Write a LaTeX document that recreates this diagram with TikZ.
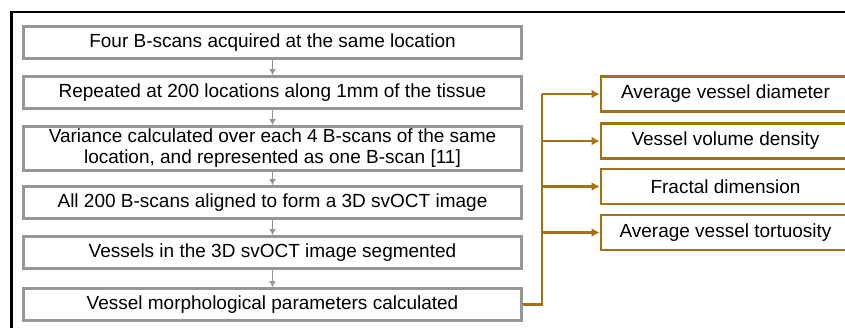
\documentclass[tikz,border=0pt]{standalone}
\usepackage{fontspec}
\setmainfont{Liberation Sans}
\usetikzlibrary{arrows.meta}

\definecolor{stepgray}{RGB}{150,150,150}
\definecolor{paramgold}{RGB}{163,114,24}

\tikzset{
  stepbox/.style={draw=stepgray, line width=2.8pt, minimum width=498, minimum height=32,
    inner sep=0pt, align=center, font=\fontsize{19}{21}\selectfont},
  parambox/.style={draw=paramgold, line width=2.8pt, minimum width=249, minimum height=35,
    inner sep=0pt, align=center, font=\fontsize{19}{21}\selectfont},
  steparrow/.style={draw=stepgray, line width=1.8pt, -{Latex[length=6pt,width=7pt]}},
  paramarrow/.style={draw=paramgold, line width=2.4pt, -{Latex[length=8pt,width=9pt]}}
}

\begin{document}
\begin{tikzpicture}[x=1pt,y=-1pt]
    \useasboundingbox (0,0) rectangle (845,327);
    \clip (0,0) rectangle (845,327);
    % outer frame
    \draw[line width=2.8pt] (11.5,12) rectangle (870,345);
    % processing steps
    \node[stepbox] (scan) at (272.5,42.5) {Four B-scans acquired at the same location};
    \node[stepbox] (repeat) at (272.5,92.5) {Repeated at 200 locations along 1mm of the tissue};
    \node[stepbox, minimum height=44] (variance) at (272.5,148.5)
        {Variance calculated over each 4 B-scans of the same\\location, and represented as one B-scan [11]};
    \node[stepbox] (align) at (272.5,202.5) {All 200 B-scans aligned to form a 3D svOCT image};
    \node[stepbox] (segment) at (272.5,252.5) {Vessels in the 3D svOCT image segmented};
    \node[stepbox] (morph) at (272.5,304.5) {Vessel morphological parameters calculated};
    \foreach \a/\b in {scan/repeat,repeat/variance,variance/align,align/segment,segment/morph}
        {\draw[steparrow] (\a) -- (\b);}
    % morphological parameters
    \node[parambox] (diam) at (725.5,94) {Average vessel diameter};
    \node[parambox] (dens) at (725.5,141) {Vessel volume density};
    \node[parambox] (fract) at (725.5,186.5) {Fractal dimension};
    \node[parambox] (tort) at (725.5,232.5) {Average vessel tortuosity};
    \coordinate (fork) at ([xshift=19]morph.east);
    \draw[draw=paramgold, line width=2.4pt] (morph.east) -- (fork) -- (fork |- diam.west);
    \foreach \p in {diam,dens,fract,tort}
        {\draw[paramarrow] (fork |- \p.west) -- (\p.west);}
\end{tikzpicture}
\end{document}
